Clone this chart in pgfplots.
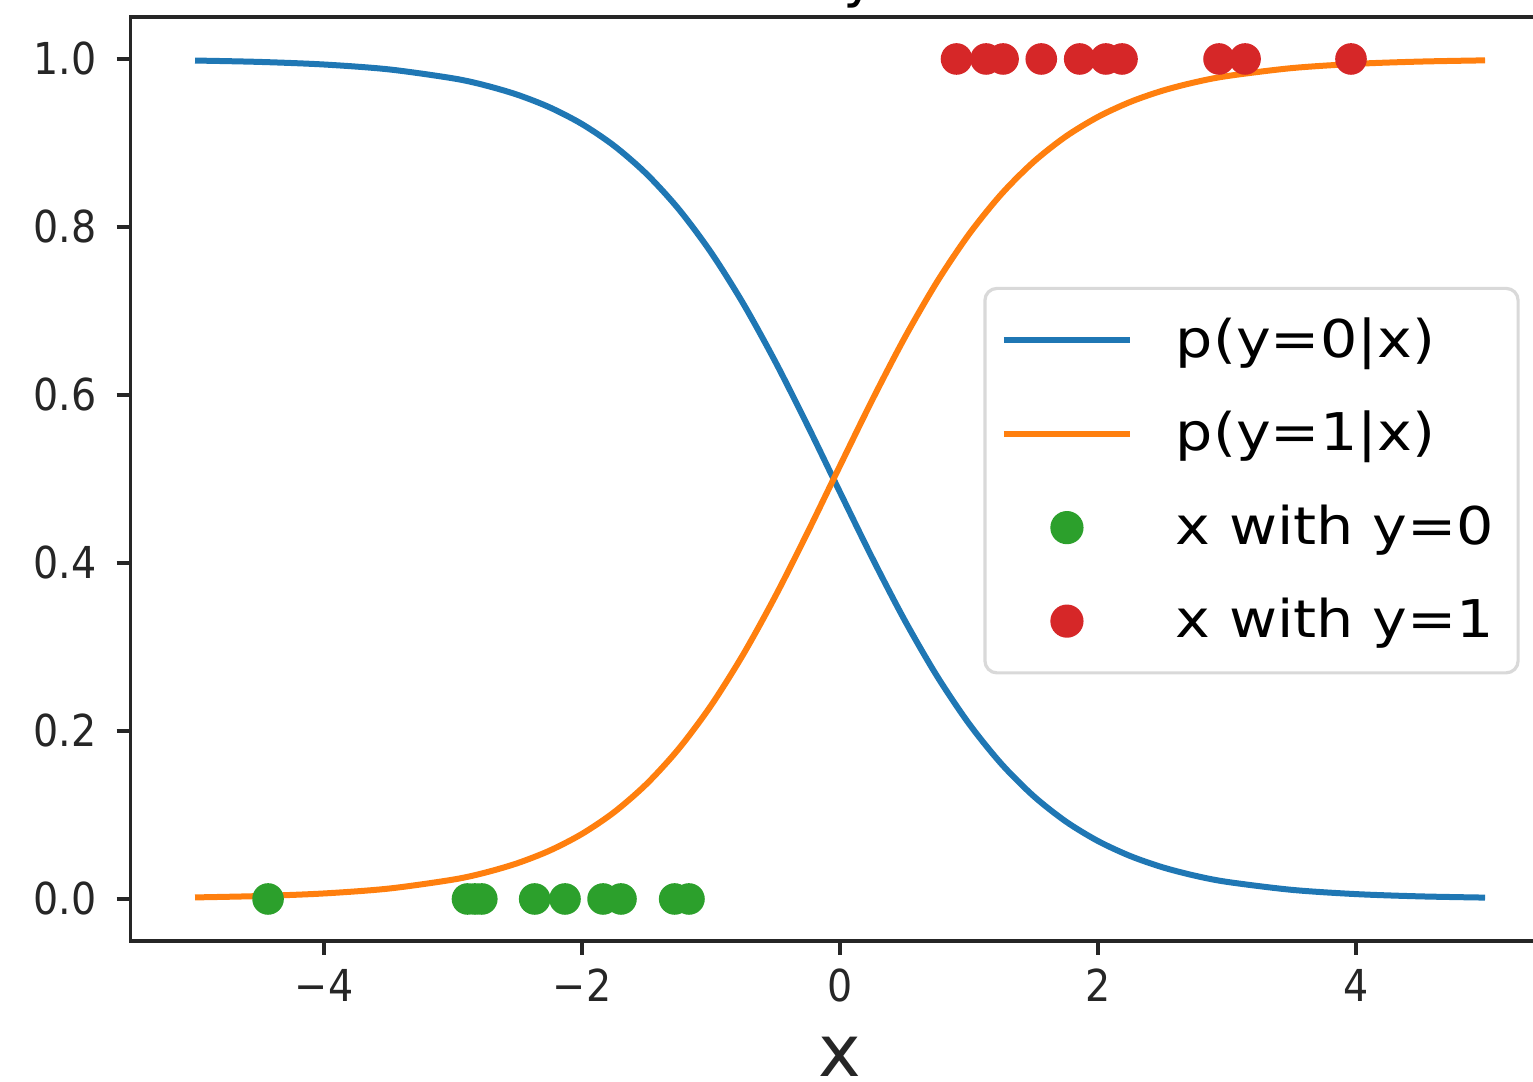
\documentclass[border=0pt]{standalone}
\usepackage{pgfplots}
\usepackage{pgfplotstable}
\pgfplotsset{compat=1.18}
\usepackage{fontspec}
\setmainfont{DejaVu Sans}
\definecolor{mplblue}{HTML}{1F77B4}
\definecolor{mplorange}{HTML}{FF7F0E}
\definecolor{mplgreen}{HTML}{2CA02C}
\definecolor{mplred}{HTML}{D62728}
\definecolor{axgray}{HTML}{262626}
\newcommand{\tklab}[1]{\scalebox{0.9}[1]{#1}}
\newcommand{\legtxt}[1]{\scalebox{1.13}[1]{#1}}

\pgfplotstableread{
x p1 p0
-5 0.001858 0.998142
-4.5 0.003500 0.996500
-4 0.006584 0.993416
-3.5 0.012352 0.987648
-3 0.023056 0.976944
-2.75 0.03141 0.96859
-2.5 0.04264 0.95736
-2.25 0.05765 0.94235
-2 0.07752 0.92248
-1.75 0.10349 0.89651
-1.5 0.13687 0.86313
-1.25 0.17889 0.82111
-1 0.23032 0.76968
-0.75 0.29130 0.70870
-0.5 0.36088 0.63912
-0.25 0.43680 0.56320
0 0.51587 0.48413
0.25 0.59411 0.40589
0.5 0.66786 0.33214
0.75 0.73420 0.26580
1 0.79141 0.20859
1.25 0.83902 0.16098
1.5 0.87745 0.12255
1.75 0.90772 0.09228
2 0.93108 0.06892
2.25 0.94888 0.05112
2.5 0.96226 0.03774
2.75 0.97223 0.02777
3 0.97964 0.02036
3.5 0.98911 0.01089
4 0.99420 0.00580
4.5 0.99692 0.00308
5 0.99836 0.00164
}\sigtable

\begin{document}
\begin{tikzpicture}
\begin{axis}[
  scale only axis, width=354.75pt, height=231pt,
  xmin=-5.5, xmax=5.5, ymin=-0.05, ymax=1.05,
  axis line style={axgray, line width=0.8pt},
  tick style={axgray, line width=0.8pt},
  tick align=outside, tick pos=left, major tick length=3.5pt,
  xtick={-4,-2,0,2,4}, xticklabels={\tklab{−4},\tklab{−2},\tklab{0},\tklab{2},\tklab{4}},
  ytick={0,0.2,0.4,0.6,0.8,1.0}, yticklabels={\tklab{0.0},\tklab{0.2},\tklab{0.4},\tklab{0.6},\tklab{0.8},\tklab{1.0}},
  ticklabel style={font=\fontsize{11}{13}\selectfont, text=axgray},
  yticklabel style={xshift=-1.5pt},
  xlabel={x},
  xlabel style={at={(axis description cs:0.5,0)}, anchor=base, yshift=-34pt, font=\fontsize{18}{20}\selectfont, text=axgray},
  clip=false,
  legend cell align=left,
  legend style={at={(0.979,0.708)}, anchor=north east, draw=black!15, rounded corners=3pt, line width=0.8pt,
    font=\fontsize{13}{15.6}\selectfont, fill=white,
    row sep=8pt, inner xsep=4pt, inner ysep=5.25pt,
    nodes={text=black}},
  legend image code/.code={
    \draw[mark repeat=2,mark phase=2,#1] plot coordinates {(0pt,0pt) (15.75pt,0pt) (31.5pt,0pt)};
    \path (40.25pt,0pt);
  },
]
\addplot[mplblue, line width=1.5pt, smooth] table[x=x, y=p0] {\sigtable};
\addlegendentry{\legtxt{p(y=0|x)}}
\addplot[mplorange, line width=1.5pt, smooth] table[x=x, y=p1] {\sigtable};
\addlegendentry{\legtxt{p(y=1|x)}}
\addplot[only marks, mark=*, mark size=3.75pt, mplgreen, mark options={draw=mplgreen, fill=mplgreen}] coordinates {
(-4.434,0) (-2.888,0) (-2.83,0) (-2.777,0) (-2.367,0) (-2.132,0) (-1.837,0) (-1.698,0) (-1.282,0) (-1.171,0)
};
\addlegendentry{\legtxt{x with y=0}}
\addplot[only marks, mark=*, mark size=3.75pt, mplred, mark options={draw=mplred, fill=mplred}] coordinates {
(0.903,1) (1.132,1) (1.264,1) (1.560,1) (1.858,1) (2.061,1) (2.186,1) (2.938,1) (3.140,1) (3.961,1)
};
\addlegendentry{\legtxt{x with y=1}}
\node[anchor=base, font=\fontsize{14}{16.8}\selectfont, text=black] at (axis cs:0.155,1.0749) {y};
\coordinate (bl) at (axis cs:-6.512,-0.2176);
\coordinate (tr) at (axis cs:5.372,1.0702);
\end{axis}
\pgfresetboundingbox
\useasboundingbox (bl) rectangle (tr);
\end{tikzpicture}
\end{document}
